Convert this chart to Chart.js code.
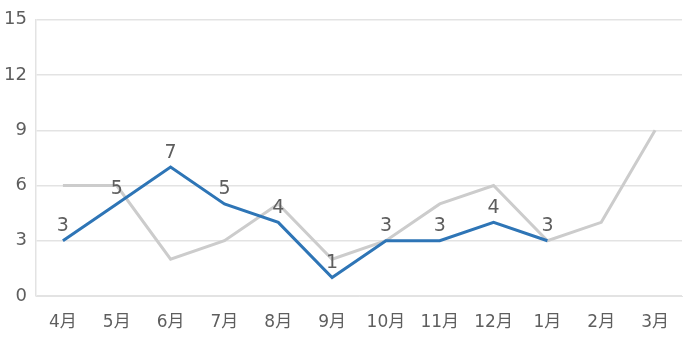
<!DOCTYPE html>
<html>
<head>
<meta charset="utf-8">
<script src="https://cdn.jsdelivr.net/npm/chart.js@4"></script>
<style>
  html, body { margin: 0; padding: 0; background: #fff; }
  #wrap { width: 685px; height: 348px; }
</style>
</head>
<body>
<div id="wrap"><canvas id="chartLineas"></canvas></div>
<script>
// === Datos ===
const meses = ["4月", "5月", "6月", "7月", "8月", "9月", "10月", "11月", "12月", "1月", "2月", "3月"];
const serieAzul = [3, 5, 7, 5, 4, 1, 3, 3, 4, 3, null, null];
const serieGris = [6, 6, 2, 3, 5, 2, 3, 5, 6, 3, 4, 9];
const yMin = 0, yMax = 15, yPaso = 3;

// dígitos anchos (DejaVu) + 月 desde la fuente CJK
const fuente = "'DejaVu Sans', 'Noto Sans CJK JP', sans-serif";
const textoGris = "#5e5e5e";
const lineaGrid = "#e3e3e3";

// === Etiquetas de valores sobre la serie azul ===
const etiquetas = {
  id: "etiquetas",
  afterDatasetsDraw(chart) {
    const ctx = chart.ctx;
    const meta = chart.getDatasetMeta(0);
    ctx.save();
    ctx.font = "19px " + fuente;
    ctx.fillStyle = textoGris;
    ctx.textAlign = "center";
    ctx.textBaseline = "bottom";
    meta.data.forEach((p, i) => {
      const v = serieAzul[i];
      if (v == null) return;
      ctx.fillText(String(v), p.x, p.y - 5);
    });
    ctx.restore();
  }
};

new Chart(document.getElementById("chartLineas"), {
  type: "line",
  data: {
    labels: meses,
    datasets: [{
      label: "Azul",
      data: serieAzul,
      borderColor: "#2e75b6",
      borderWidth: 3,
      pointRadius: 0,
      tension: 0,
      spanGaps: false
    }, {
      label: "Gris",
      data: serieGris,
      borderColor: "#cccccc",
      borderWidth: 3,
      pointRadius: 0,
      tension: 0
    }]
  },
  options: {
    responsive: true,
    maintainAspectRatio: false,
    animation: false,
    plugins: {
      legend: { display: false },
      tooltip: { enabled: false }
    },
    layout: {
      padding: { top: 19, left: 0, right: 0, bottom: 0 }
    },
    scales: {
      x: {
        offset: true,
        grid: { display: false, drawTicks: false },
        border: { display: true, color: lineaGrid, width: 1 },
        ticks: {
          color: textoGris,
          font: { family: fuente, size: 17 },
          padding: 16,
          maxRotation: 0,
          autoSkip: false
        },
        afterFit(scale) { scale.height = 52; }
      },
      y: {
        min: yMin,
        max: yMax,
        grid: { color: lineaGrid, lineWidth: 1.5, drawTicks: false },
        border: { display: true, color: lineaGrid, width: 1.5 },
        ticks: {
          stepSize: yPaso,
          color: textoGris,
          font: { family: fuente, size: 18 },
          padding: 9
        },
        afterFit(scale) { scale.width = 36; }
      }
    }
  },
  plugins: [etiquetas]
});
</script>
</body>
</html>
